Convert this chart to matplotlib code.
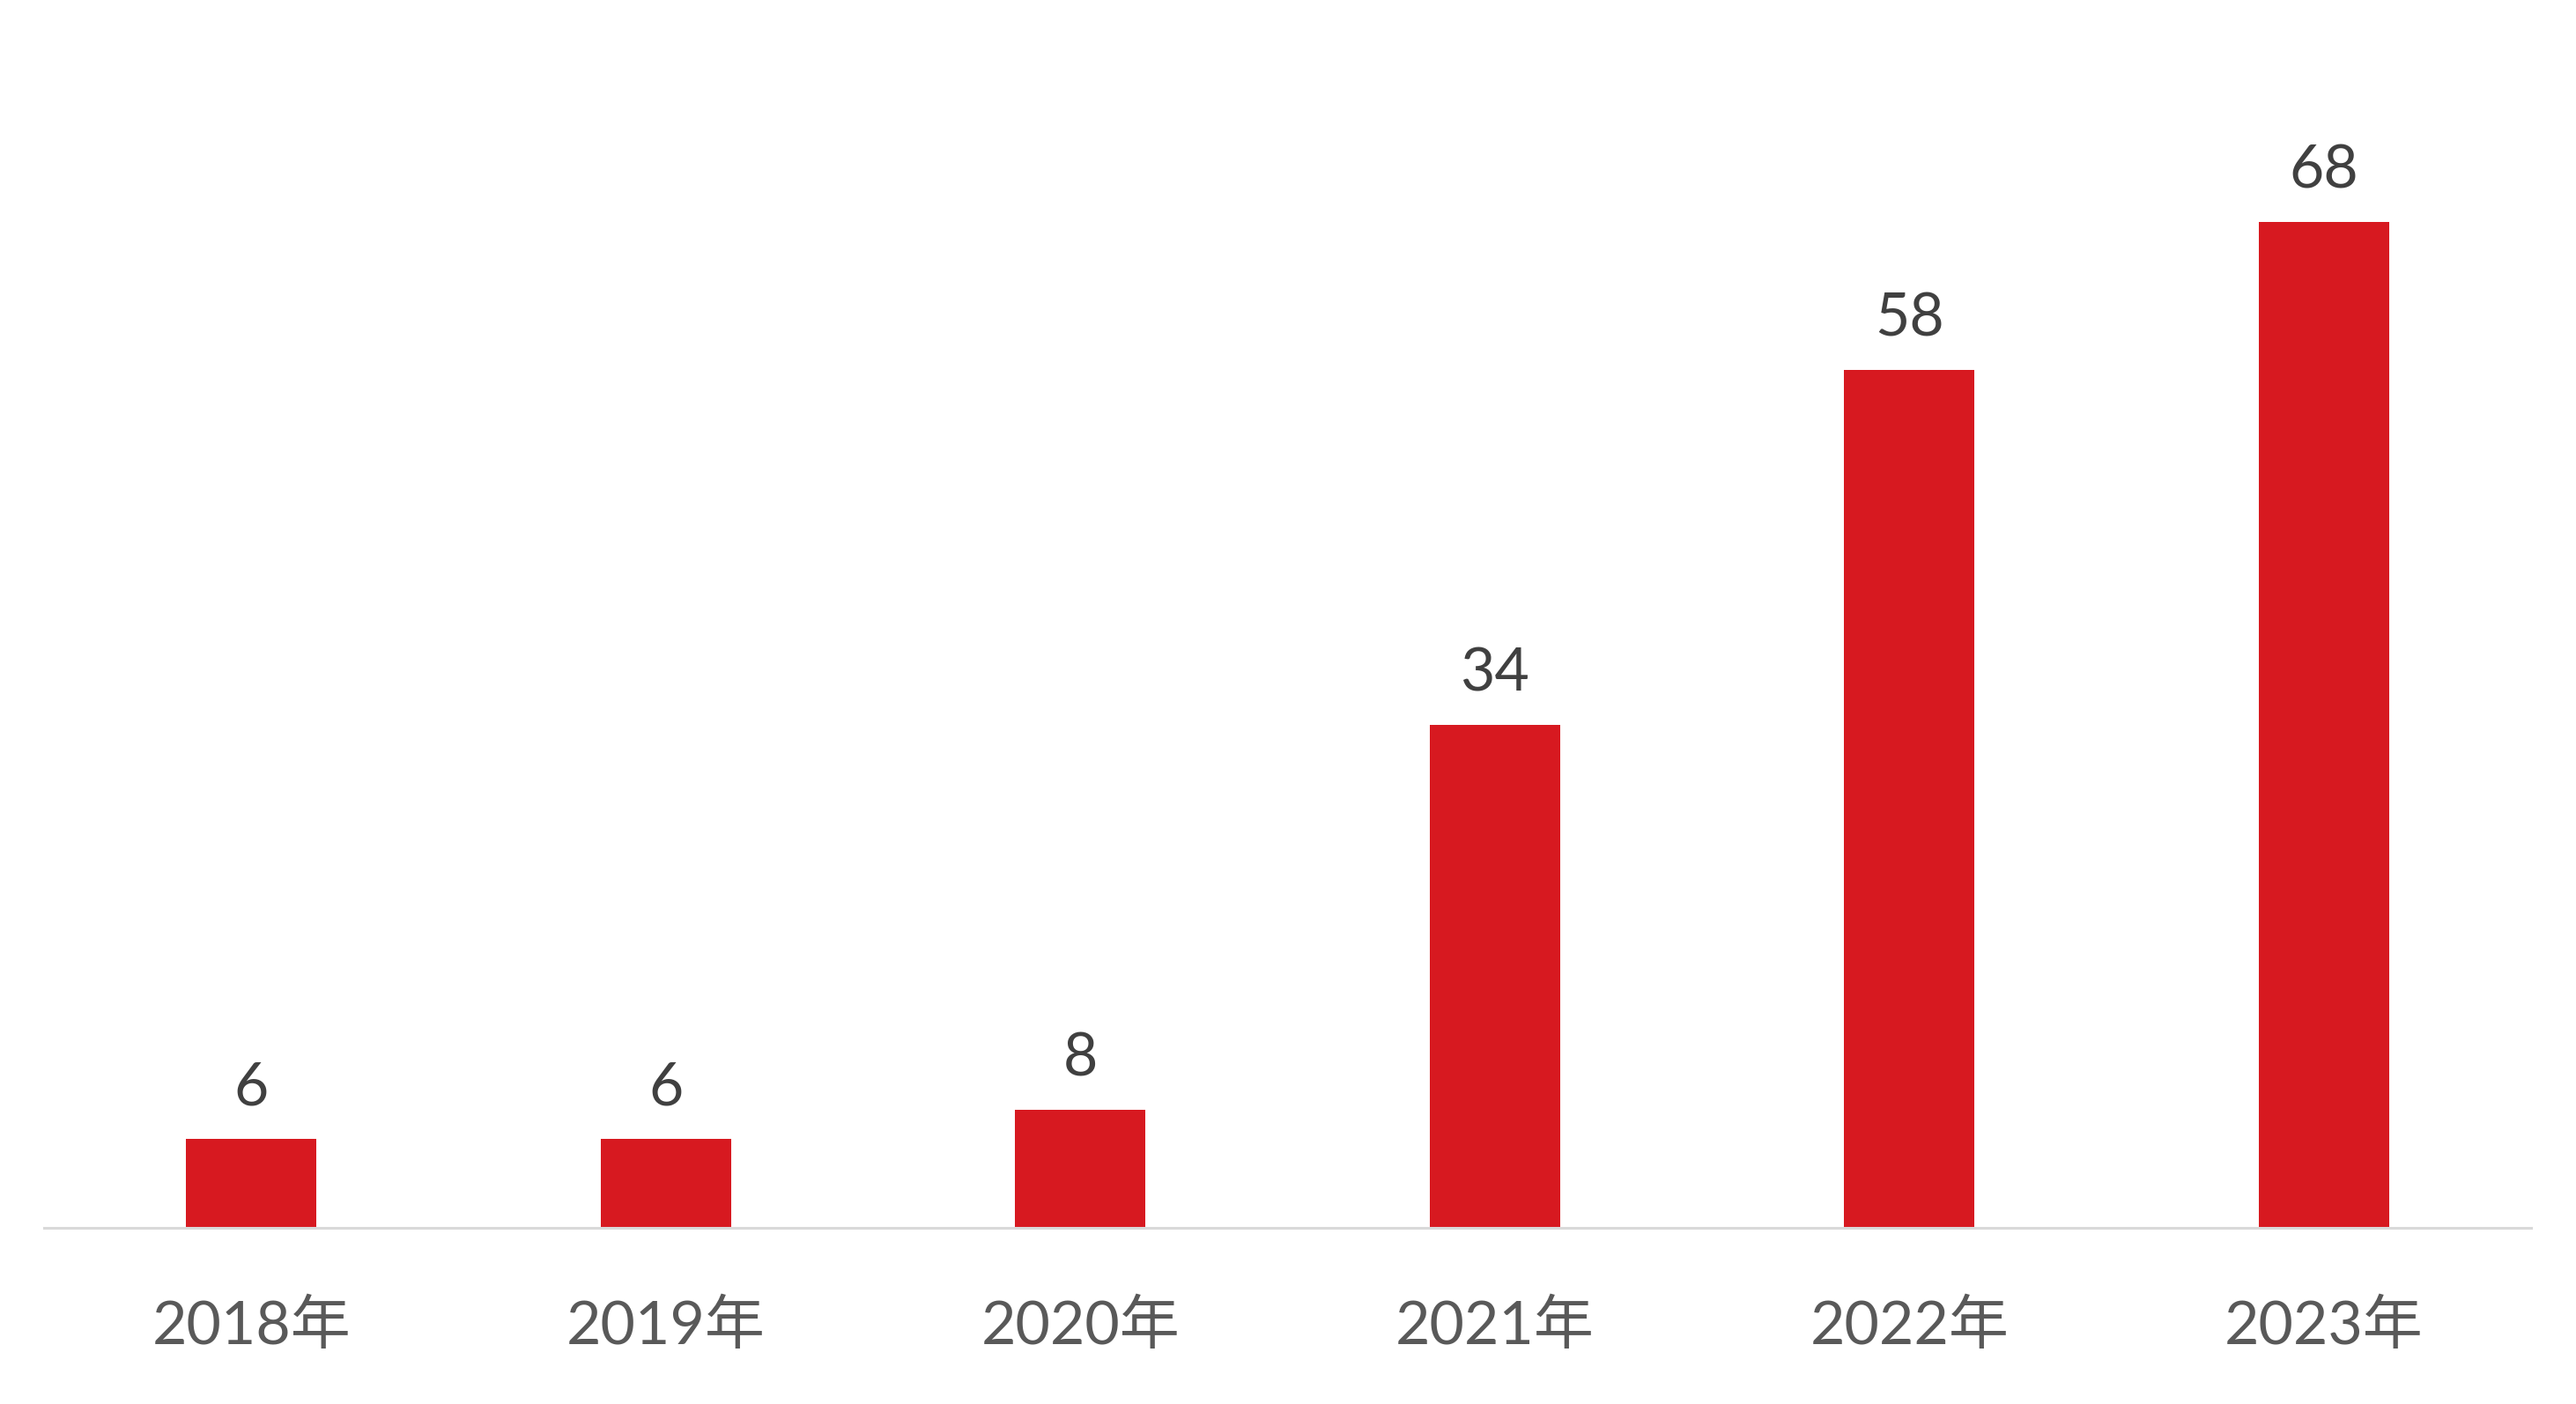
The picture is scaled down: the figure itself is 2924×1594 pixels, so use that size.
import matplotlib
matplotlib.use("Agg")
import matplotlib.pyplot as plt

categories = ["2018年", "2019年", "2020年", "2021年", "2022年", "2023年"]
values = [6, 6, 8, 34, 58, 68]

plt.rcParams['font.family'] = ['Lato', 'Noto Sans CJK SC', 'DejaVu Sans']

W, H, DPI = 2924, 1594, 200
fig = plt.figure(figsize=(W / DPI, H / DPI), dpi=DPI)
left = 50 / W
right = 2873 / W
bottom = 1 - 1394 / H
ymax = 80
height = ymax * 16.8 / H
ax = fig.add_axes([left, bottom, right - left, height])

x = list(range(len(categories)))
bars = ax.bar(x, values, width=0.314, color="#D71920", zorder=2)
ax.set_xlim(-0.5, len(categories) - 0.5)
ax.set_ylim(0, ymax)

for xi, v in zip(x, values):
    ax.annotate(str(v), (xi, v), xytext=(0, 9.5), textcoords="offset points",
                ha="center", va="bottom", fontsize=24.5, color="#404040")

for s in ["top", "right", "left"]:
    ax.spines[s].set_visible(False)
ax.spines["bottom"].set_color("#D9D9D9")
ax.spines["bottom"].set_linewidth(1.1)
ax.set_yticks([])
ax.set_xticks(x)
ax.set_xticklabels(categories, fontsize=24.5, color="#595959")
ax.tick_params(axis="x", length=0, pad=29.5)

fig.savefig("out.png", dpi=DPI, facecolor="white")
